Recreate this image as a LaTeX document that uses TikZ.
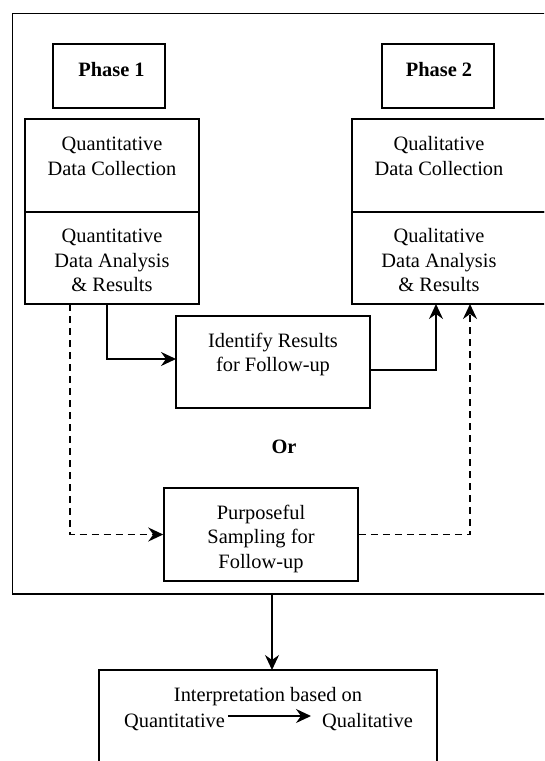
\documentclass[tikz,border=0pt]{standalone}
\usepackage{fontspec}
\setmainfont{Liberation Serif}
\usetikzlibrary{arrows.meta}
\begin{document}
\begin{tikzpicture}[x=1pt,y=-1pt,
  box/.style={draw, line width=1.5pt, rectangle, inner sep=0pt},
  txt/.style={anchor=base, inner sep=0pt, font=\fontsize{20.4pt}{25pt}\selectfont},
  btxt/.style={txt, font=\fontsize{20.4pt}{25pt}\selectfont\bfseries},
  conn/.style={line width=1.6pt, -{Stealth[length=15pt,width=14pt,inset=5pt]}},
  dconn/.style={conn, dash pattern=on 7pt off 5pt}]
\useasboundingbox (0,0) rectangle (544,761);
\clip (0,0) rectangle (544,761);
% frame
\node[box, minimum width=567.5pt, minimum height=580.5pt] (frame) at (296.25,303.75) {};
% phase boxes
\node[box, minimum width=112pt, minimum height=64pt] (ph1) at (109,76) {};
\node[box, minimum width=112pt, minimum height=64pt] (ph2) at (438,76) {};
\node[btxt] (ph1t) at (111.5,76) {Phase 1};
\node[btxt] (ph2t) at (439,76) {Phase 2};
% quantitative boxes
\node[box, minimum width=174pt, minimum height=93pt] (qc) at (112,165.5) {};
\node[box, minimum width=174pt, minimum height=92pt] (qa) at (112,258) {};
\node[txt] (qc1) at (112,150) {Quantitative};
\node[txt] (qc2) at (112,175) {Data Collection};
\node[txt] (qa1) at (112,242) {Quantitative};
\node[txt] (qa2) at (112,267) {Data Analysis};
\node[txt] (qa3) at (112,291) {\& Results};
% qualitative boxes
\node[box, minimum width=208pt, minimum height=93pt] (lc) at (456,165.5) {};
\node[box, minimum width=208pt, minimum height=92pt] (la) at (456,258) {};
\node[txt] (lc1) at (439,150) {Qualitative};
\node[txt] (lc2) at (439,175) {Data Collection};
\node[txt] (la1) at (439,242) {Qualitative};
\node[txt] (la2) at (439,267) {Data Analysis};
\node[txt] (la3) at (439,291) {\& Results};
% identify
\node[box, minimum width=194pt, minimum height=92pt] (ident) at (273,362) {};
\node[txt] (id1) at (273,347) {Identify Results};
\node[txt] (id2) at (273,371) {for Follow-up};
% or
\node[btxt] (or) at (284,453) {Or};
% purposeful
\node[box, minimum width=194pt, minimum height=93pt] (purp) at (261,534.5) {};
\node[txt] (pu1) at (261,519) {Purposeful};
\node[txt] (pu2) at (261,543) {Sampling for};
\node[txt] (pu3) at (261,568) {Follow-up};
% interpretation
\node[box, minimum width=338pt, minimum height=130pt] (interp) at (268,735) {};
\node[txt] (in1) at (268,701) {Interpretation based on};
\node[txt] (in2) at (174.5,727) {Quantitative};
\node[txt] (in3) at (367.5,727) {Qualitative};
% connector coordinates
\coordinate (s1) at (107,304);
\coordinate (t1) at (176,359);
\coordinate (s2) at (370,370);
\coordinate (t2) at (436,304);
\coordinate (s3) at (70,304);
\coordinate (t4) at (470,304);
\coordinate (s5) at (272,594);
\coordinate (t5) at (272,670);
\coordinate (a1) at (228,716);
\coordinate (a2) at (311,716);
% connectors
\draw[conn] (s1) |- (t1);
\draw[conn] (s2) -| (t2);
\draw[dconn] (s3) |- (purp.west);
\draw[dconn] (purp.east) -| (t4);
\draw[conn] (s5) -- (t5);
\draw[conn] (a1) -- (a2);
\end{tikzpicture}
\end{document}
